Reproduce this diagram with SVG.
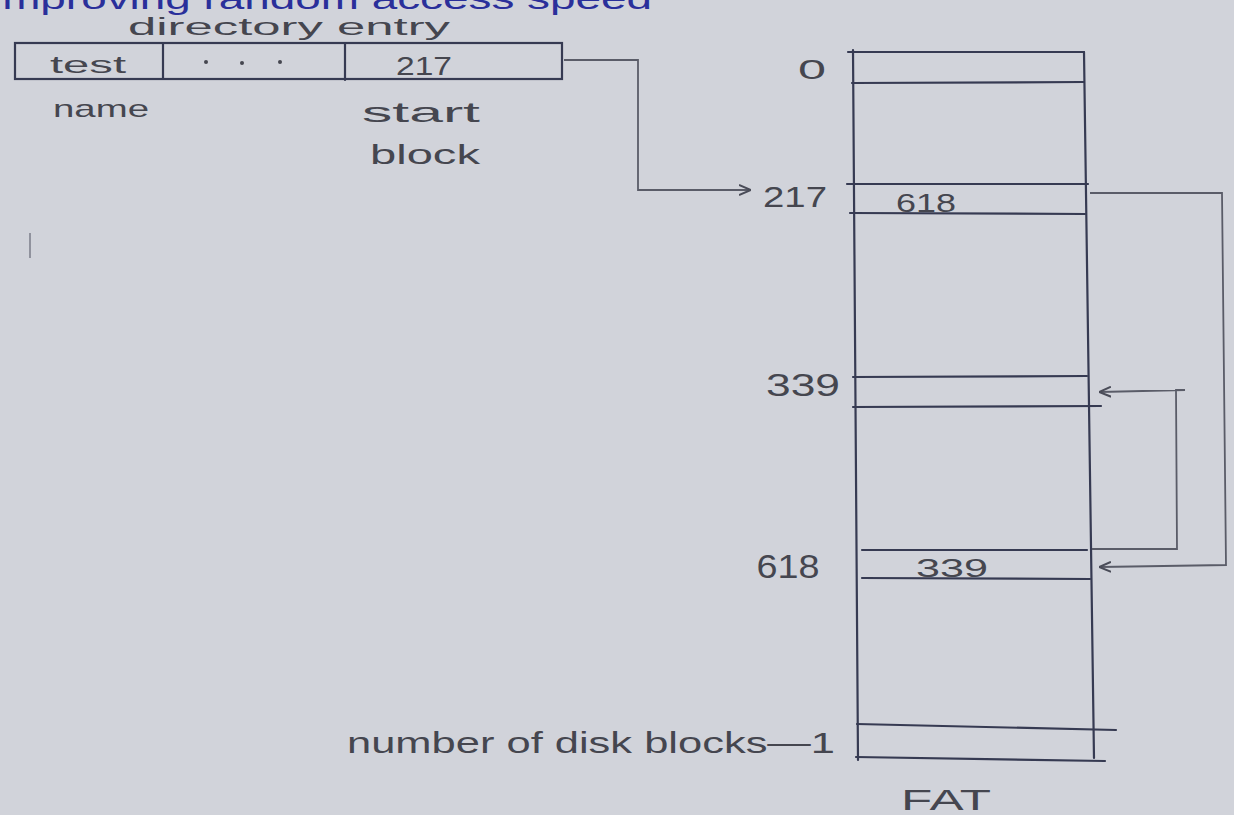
<svg xmlns="http://www.w3.org/2000/svg" width="1234" height="815" viewBox="0 0 1234 815">
<defs>
<style>
.bg{fill:#d1d3da}
.ln{stroke:#363a52;stroke-width:2.2;fill:none;stroke-linecap:round}
.cn{stroke:#5a5c68;stroke-width:1.8;fill:none}
.t{font-family:"Liberation Sans",Arial,sans-serif;fill:#45464f}
.blue{font-family:"Liberation Sans",Arial,sans-serif;fill:#2a2f9a}
</style>
<marker id="ah" viewBox="0 0 12 12" refX="11" refY="6" markerWidth="12" markerHeight="12" markerUnits="userSpaceOnUse" orient="auto">
<path d="M0,1 L12,6 L0,11" fill="none" stroke="#4a4c58" stroke-width="2"/>
</marker>
</defs>
<rect class="bg" x="0" y="0" width="1234" height="815"/>
<text class="blue" x="-8" y="9" font-size="30" textLength="660" lengthAdjust="spacingAndGlyphs">improving random access speed</text>
<line x1="30" y1="233" x2="30" y2="258" stroke="#7a7c88" stroke-width="1.5"/>

<g id="directory-entry">
<text class="t" x="289" y="35" font-size="23" text-anchor="middle" textLength="322" lengthAdjust="spacingAndGlyphs">directory entry</text>
<rect class="ln" x="15" y="43" width="547" height="36"/>
<line class="ln" x1="163" y1="43" x2="163" y2="79"/>
<line class="ln" x1="345" y1="43" x2="345" y2="80"/>
<text class="t" x="88" y="73" font-size="24" text-anchor="middle" textLength="76" lengthAdjust="spacingAndGlyphs">test</text>
<circle cx="206" cy="62" r="2" fill="#45464f"/>
<circle cx="242" cy="63" r="2" fill="#45464f"/>
<circle cx="280" cy="62" r="2" fill="#45464f"/>
<text class="t" x="424" y="75" font-size="26" text-anchor="middle" textLength="56" lengthAdjust="spacingAndGlyphs">217</text>
<text class="t" x="101" y="117" font-size="24" text-anchor="middle" textLength="96" lengthAdjust="spacingAndGlyphs">name</text>
<text class="t" x="421" y="122" font-size="28" text-anchor="middle" textLength="118" lengthAdjust="spacingAndGlyphs">start</text>
<text class="t" x="425" y="164" font-size="28" text-anchor="middle" textLength="110" lengthAdjust="spacingAndGlyphs">block</text>
</g>

<g id="fat">
<line class="ln" x1="853" y1="50" x2="858" y2="760"/>
<line class="ln" x1="1084" y1="52" x2="1094" y2="758"/>
<line class="ln" x1="848" y1="52" x2="1084" y2="52"/>
<line class="ln" x1="852" y1="83" x2="1084" y2="82"/>
<text class="t" x="812" y="79" font-size="28" text-anchor="middle" textLength="28" lengthAdjust="spacingAndGlyphs">0</text>
<line class="ln" x1="847" y1="184" x2="1088" y2="184"/>
<line class="ln" x1="850" y1="213" x2="1085" y2="214"/>
<text class="t" x="795" y="207" font-size="30" text-anchor="middle" textLength="64" lengthAdjust="spacingAndGlyphs">217</text>
<text class="t" x="926" y="212" font-size="25" text-anchor="middle" textLength="60" lengthAdjust="spacingAndGlyphs">618</text>
<line class="ln" x1="853" y1="377" x2="1087" y2="376"/>
<line class="ln" x1="853" y1="407" x2="1101" y2="406"/>
<text class="t" x="803" y="396" font-size="32" text-anchor="middle" textLength="74" lengthAdjust="spacingAndGlyphs">339</text>
<line class="ln" x1="862" y1="550" x2="1087" y2="550"/>
<line class="ln" x1="862" y1="578" x2="1090" y2="579"/>
<text class="t" x="788" y="578" font-size="34" text-anchor="middle" textLength="63" lengthAdjust="spacingAndGlyphs">618</text>
<text class="t" x="952" y="577" font-size="26" text-anchor="middle" textLength="72" lengthAdjust="spacingAndGlyphs">339</text>
<line class="ln" x1="857" y1="724" x2="1116" y2="730"/>
<line class="ln" x1="856" y1="757" x2="1105" y2="761"/>
<text class="t" x="591" y="753" font-size="30" text-anchor="middle" textLength="488" lengthAdjust="spacingAndGlyphs">number of disk blocks—1</text>
<text class="t" x="946" y="810" font-size="30" text-anchor="middle" textLength="90" lengthAdjust="spacingAndGlyphs">FAT</text>
</g>

<g id="connectors">
<polyline class="cn" points="564,60 638,60 638,190 750,190" marker-end="url(#ah)"/>
<polyline class="cn" points="1090,193 1222,193 1226,565 1100,567" marker-end="url(#ah)"/>
<polyline class="cn" points="1092,549 1177,549 1176,390 1185,390 1100,392" marker-end="url(#ah)"/>
</g>
</svg>
